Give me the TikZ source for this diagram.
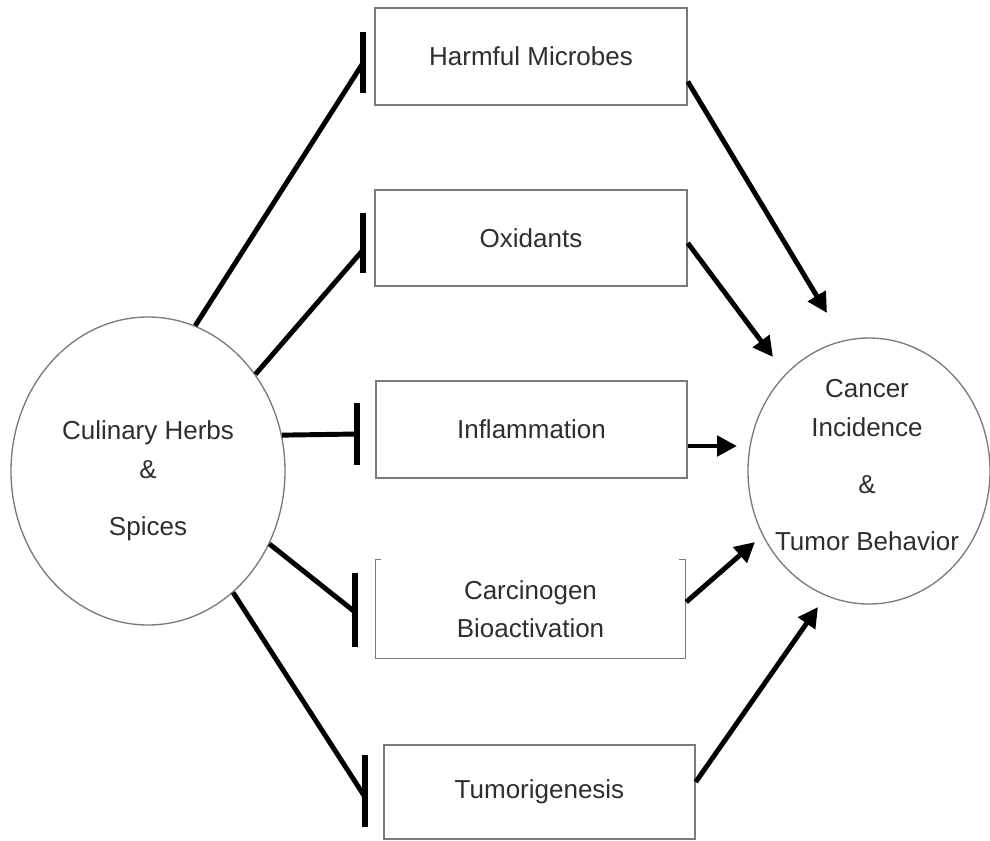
\documentclass[tikz,border=0pt]{standalone}
\usepackage{fontspec}
\setmainfont{Liberation Sans}
\usetikzlibrary{shapes.geometric,arrows.meta,calc}

\definecolor{edgegray}{HTML}{7A7A7A}
\definecolor{txtgray}{HTML}{2E2E2E}

\tikzset{
  lbl/.style={font=\fontsize{19.5}{28.5}\selectfont, text=txtgray, inner sep=0pt},
  box/.style={lbl, draw=edgegray, line width=1.1pt, align=center},
  openbox/.style={lbl, align=center},
  blob/.style={ellipse, draw=edgegray, line width=1pt, inner sep=0pt},
  inhib/.style={line width=3.7pt, black},
  barline/.style={line width=3.9pt, black},
  activ/.style={line width=3.7pt, black, -{Triangle[length=15pt,width=15pt]}},
}

\begin{document}
\begin{tikzpicture}[x=0.75pt,y=-0.75pt]
  \useasboundingbox (0,0) rectangle (990,840);

  % source and target circles
  \node[blob, minimum width=205.5pt, minimum height=231pt] (herbs) at (148,471) {};
  \node[blob, minimum width=181.5pt, minimum height=199.5pt] (cancer) at (869,471) {};

  \node[lbl, anchor=base] (herbs-a) at (148,439) {Culinary Herbs};
  \node[lbl, anchor=base] (herbs-b) at (148,478) {\&};
  \node[lbl, anchor=base] (herbs-c) at (148,535) {Spices};

  \node[lbl, anchor=base] (cancer-a) at (867,397) {Cancer};
  \node[lbl, anchor=base] (cancer-b) at (867,436) {Incidence};
  \node[lbl, anchor=base] (cancer-c) at (867,493) {\&};
  \node[lbl, anchor=base] (cancer-d) at (867,550) {Tumor Behavior};

  % intermediate factors
  \node[box, minimum width=234pt, minimum height=72.75pt] (hm) at (531,56.5) {Harmful Microbes};
  \node[box, minimum width=234pt, minimum height=72pt] (ox) at (531,238) {Oxidants};
  \node[box, minimum width=233.25pt, minimum height=72.75pt] (inf) at (531.5,429.5) {Inflammation};
  \node[openbox, minimum width=231.75pt, minimum height=73.5pt] (carc) at (530.5,609) {Carcinogen\\Bioactivation};
  \node[box, minimum width=233.25pt, minimum height=70.5pt] (tum) at (539.5,792) {Tumorigenesis};

  % box drawn open at the top, with small hooks at the corners
  \draw[draw=edgegray, line width=1.1pt]
    ($(carc.north west)+(5,0)$) -- (carc.north west) -- (carc.south west)
    -- (carc.south east) -- (carc.north east) -- ($(carc.north east)+(-6,0)$);

  % inhibition bars in front of each factor
  \coordinate (hm-b1) at (363,32);   \coordinate (hm-b2) at (363,93);
  \coordinate (ox-b1) at (363,213);  \coordinate (ox-b2) at (363,273);
  \coordinate (inf-b1) at (357,403); \coordinate (inf-b2) at (357,465);
  \coordinate (carc-b1) at (355,573); \coordinate (carc-b2) at (355,647);
  \coordinate (tum-b1) at (365,755); \coordinate (tum-b2) at (365,827);

  \coordinate (hm-in) at (363,63);
  \coordinate (ox-in) at (363,250);
  \coordinate (inf-in) at (357,434);
  \coordinate (carc-in) at (355,612);
  \coordinate (tum-in) at (365,797);

  \draw[barline] (hm-b1) -- (hm-b2);
  \draw[barline] (ox-b1) -- (ox-b2);
  \draw[barline] (inf-b1) -- (inf-b2);
  \draw[barline] (carc-b1) -- (carc-b2);
  \draw[barline] (tum-b1) -- (tum-b2);

  \draw[inhib] (herbs.72.6) -- (hm-in);
  \draw[inhib] (herbs.42) -- (ox-in);
  \draw[inhib] (herbs.15.4) -- (inf-in);
  \draw[inhib] (herbs.-31.2) -- (carc-in);
  \draw[inhib] (herbs.-55.1) -- (tum-in);

  % promoting arrows towards the outcome
  \coordinate (hm-tip) at (827,313);
  \coordinate (ox-tip) at (773,357);
  \coordinate (inf-tip) at (737,446);
  \coordinate (carc-tip) at (755,542);
  \coordinate (tum-tip) at (818,607);

  \draw[activ] ($(hm.east)+(0,25)$) -- (hm-tip);
  \draw[activ] ($(ox.east)+(0,5)$) -- (ox-tip);
  \draw[activ] ($(inf.east)+(0,16.5)$) -- (inf-tip);
  \draw[activ] ($(carc.east)+(1,-7)$) -- (carc-tip);
  \draw[activ] ($(tum.east)+(0,-10)$) -- (tum-tip);
\end{tikzpicture}
\end{document}
